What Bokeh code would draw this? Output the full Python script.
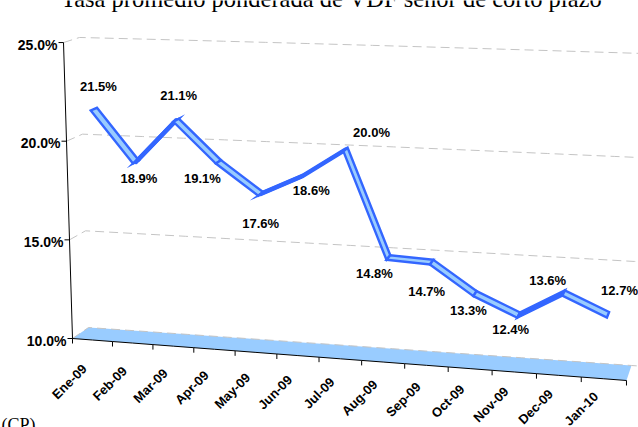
import math
from bokeh.plotting import figure
from bokeh.models import Range1d
from bokeh.core.properties import value
from bokeh.embed import file_html
from bokeh.resources import INLINE

# ---------------- data ----------------
months = ["Ene-09", "Feb-09", "Mar-09", "Apr-09", "May-09", "Jun-09", "Jul-09",
          "Aug-09", "Sep-09", "Oct-09", "Nov-09", "Dec-09", "Jan-10"]
rates = [21.5, 18.9, 21.1, 19.1, 17.6, 18.6, 20.0, 14.8, 14.7, 13.3, 12.4, 13.6, 12.7]
y_ticks = [10, 15, 20, 25]
title_text = "Tasa promedio ponderada de VDF señor de corto plazo"
footer_text = "(CP)"

# ---------------- layout / 3D projection ----------------
W, H = 638, 427
N = len(months)
VMIN = y_ticks[0]

# label placement (screen px: right, down) relative to each point
label_offsets = [(4.5, -23), (3, 17), (2.5, -25), (-16, 17), (0, 30), (8.5, 15), (26, -17),
                 (-14, 16), (-5, 29), (-6.5, 16.5), (-8, 14), (-16, -13), (11.5, -24.5)]


def P(c, v, d):
    """project category position c (0..N), value v, depth d (0 front .. 1 back)"""
    xf = 72 + 39.78 * c + 0.218 * c * c
    yf = 338 + 0.0758 * (xf - 72)
    dx = 16 - 11 * c / N
    dy = -11 - 4 * c / N
    s = 19.73 * (1 + 0.076 * c / N) * (1 - 0.02 * d)
    lean = -0.6 * (1 - 2 * c / N)
    x = xf + d * dx + lean * (v - VMIN)
    y = yf + d * dy - s * (v - VMIN)
    return x, H - y


p = figure(width=W, height=H, x_range=Range1d(0, W), y_range=Range1d(0, H),
           x_axis_type=None, y_axis_type=None, toolbar_location=None,
           output_backend="svg", min_border=0, outline_line_color=None,
           background_fill_color="white", border_fill_color="white")

BLUE = "#3366FF"
LIGHT = "#99CCFF"
GRID = "#C4C4C4"
FONT = value("Liberation Sans")

# floor
steps = [k * 0.5 for k in range(2 * N + 1)]
front = [P(c, VMIN, 0) for c in steps]
back = [P(c, VMIN, 1) for c in reversed(steps)]
p.patch([q[0] for q in front + back], [q[1] for q in front + back],
        fill_color=LIGHT, line_color=None)

# grid lines (side wall + back wall)
for t in y_ticks:
    pts = [P(0, t, 0)] + [P(c, t, 1) for c in steps + [N + 0.3]]
    p.line([q[0] for q in pts], [q[1] for q in pts], line_color=GRID,
           line_width=1, line_dash="9 5")

# value axis (front-left edge)
a0, a1 = P(0, y_ticks[0], 0), P(0, y_ticks[-1], 0)
p.line([a0[0], a1[0]], [a0[1], a1[1]], line_color="black", line_width=1)
tx, ty = [], []
for t in y_ticks:
    q = P(0, t, 0)
    p.line([q[0] - 5, q[0]], [q[1], q[1]], line_color="black", line_width=1)
    tx.append(q[0] - 6)
    ty.append(q[1] - 2)
p.text(tx, ty, text=["%.1f%%" % t for t in y_ticks], text_font=FONT,
       text_font_style="bold", text_font_size="14px", text_align="right",
       text_baseline="middle", text_color="black")

# category axis (front edge)
fe = [P(c, VMIN, 0) for c in steps]
p.line([q[0] for q in fe], [q[1] for q in fe], line_color="black", line_width=1)
for c in range(N + 1):
    q = P(c, VMIN, 0)
    p.line([q[0], q[0]], [q[1], q[1] - 5], line_color="black", line_width=1)
cx, cy = [], []
for i in range(N):
    q = P(i + 0.5, VMIN, 0)
    cx.append(q[0] - 8)
    cy.append(q[1] - (27 - 12 * (i + 0.5) / N))
p.text(cx, cy, text=months, angle=math.pi / 4, text_font=FONT,
       text_font_style="bold", text_font_size="13px", text_align="right",
       text_baseline="middle", text_color="black")

# 3D ribbon line
centre = [P(i + 0.5, rates[i], 0.5) for i in range(N)]
p.line([q[0] for q in centre], [q[1] for q in centre], line_color=BLUE,
       line_width=4.5, line_join="round")
xs, ys, fills = [], [], []
for i in range(N - 1):
    a0 = P(i + 0.5, rates[i], 0.3)
    b0 = P(i + 1.5, rates[i + 1], 0.3)
    b1 = P(i + 1.5, rates[i + 1], 0.7)
    a1 = P(i + 0.5, rates[i], 0.7)
    xs.append([a0[0], b0[0], b1[0], a1[0]])
    ys.append([a0[1], b0[1], b1[1], a1[1]])
    fills.append(LIGHT if rates[i + 1] < rates[i] else BLUE)
p.patches(xs, ys, fill_color=fills, line_color=BLUE, line_width=2.4,
          line_join="miter")

# data labels
lx, ly = [], []
for i in range(N):
    q = centre[i]
    lx.append(q[0] + label_offsets[i][0])
    ly.append(q[1] - label_offsets[i][1])
p.text(lx, ly, text=["%.1f%%" % r for r in rates], text_font=FONT,
       text_font_style="bold", text_font_size="13px", text_align="center",
       text_baseline="middle", text_color="black")

# title (cropped at top) and footer fragment
p.text([331], [H + 2], text=[title_text], text_font=value("Liberation Serif"),
       text_font_size="24.5px", text_align="center", text_baseline="alphabetic",
       text_color="black")
p.text([1], [3], text=[footer_text], text_font=value("Liberation Serif"),
       text_font_size="18px", text_align="left", text_baseline="alphabetic",
       text_color="black")

open("out.html", "w").write(file_html(p, INLINE))
